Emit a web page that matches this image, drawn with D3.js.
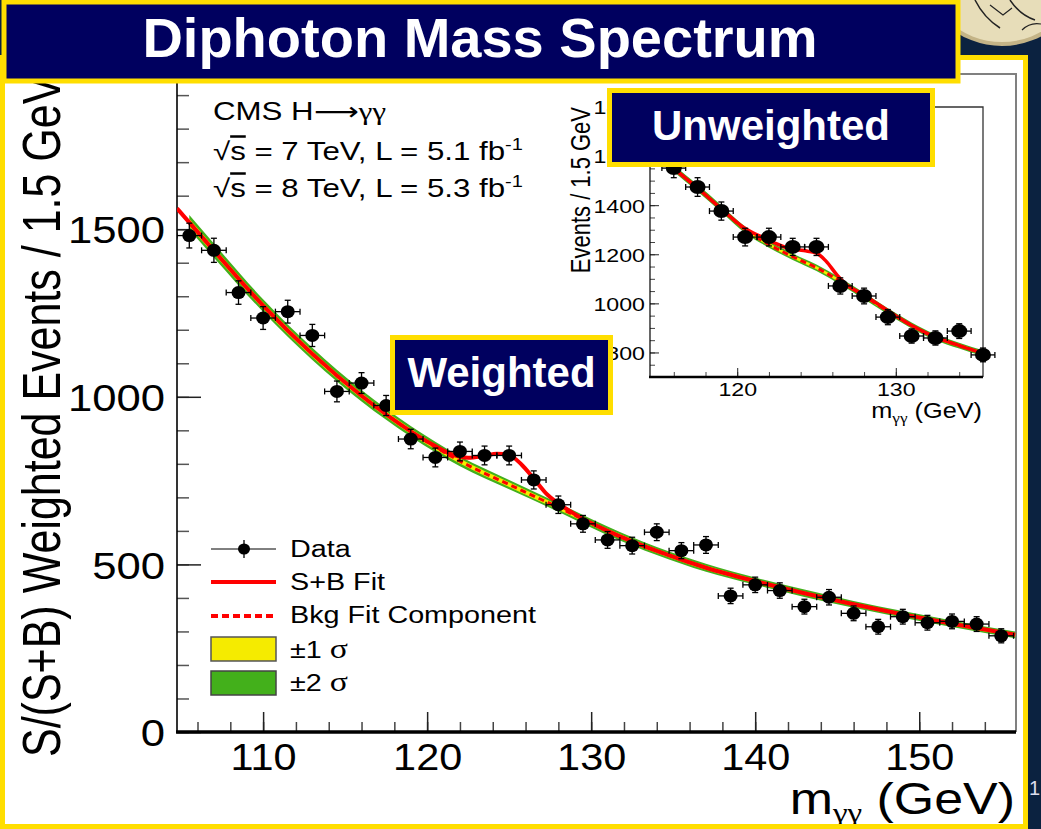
<!DOCTYPE html>
<html>
<head>
<meta charset="utf-8">
<script src="https://cdn.jsdelivr.net/npm/d3@7"></script>
<style>
  body { margin: 0; background: #0b2240; }
  svg { display: block; }
  .greek { font-family: "Liberation Serif", "DejaVu Serif", serif; }
  .arrow { font-family: "DejaVu Sans", sans-serif; }
</style>
</head>
<body>
<svg id="chart" width="1041" height="829"></svg>
<script>
// ---- main plot (S/(S+B) weighted) ----
const massMain = [105.5,107,108.5,110,111.5,113,114.5,116,117.5,119,120.5,122,123.5,125,126.5,128,129.5,
  131,132.5,134,135.5,137,138.5,140,141.5,143,144.5,146,147.5,149,150.5,152,153.5,155];
const eventsMain = [1481,1437,1311,1235,1254,1183,1016,1041,974,874,819,837,825,825,752,678,621,
  573,556,596,541,558,406,439,422,374,402,354,314,344,326,330,322,287];
const errMain = [37,36,35,34,34,33,31,31,30,29,28,28,28,28,27,26,25,
  25,25,25,24,25,23,23,23,22,23,22,22,22,22,22,22,21];

const bkgMass = [105.5,107,110,113,116,119,122,125,128,131,134,137,140,143,146,149,152,155.85];
const bkgMain = [1520,1436,1272,1128,1003,897,808,738,670,600,540,490,450,414,381,351,323,290];
const sig1Main = [11,10,9,9,8,8,7,7,7,6,6,6,6,5,5,5,5,5];
const sig2Main = [22,21,19,18,17,16,15,14,13,13,12,12,11,11,10,10,10,10];

const sbMass = [104.75,107,110,113,116,119,120.5,121.5,122.5,123.5,124.25,125,125.75,126.5,127.25,128,129,
  131,134,137,140,143,146,149,152,155.85];
const sbMain = [1562,1436,1272,1128,1003,897,853,828,818,824,830,826,798,756,712,682,650,
  600,540,490,450,414,381,351,323,290];

const xTicksMain = [110,120,130,140,150];
const yTicksMain = [0,500,1000,1500];

// ---- inset (unweighted) ----
const massInset = [116,117.5,119,120.5,122,123.5,125,126.5,128,129.5,131,132.5,134,135.5];
const eventsInset = [1551,1474,1376,1270,1270,1230,1230,1071,1030,944,867,859,887,790];
const errInset = [39,38,37,36,36,35,35,33,32,31,29,29,30,28];

const bkgMassInset = [114.5,116,117.5,119,120.5,122,123.5,125,126.5,128,129.5,131,132.5,134,135.5];
const bkgInset = [1640,1550,1470,1385,1300,1240,1190,1145,1090,1030,968,910,862,828,797];
const sig1Inset = [6,6,6,6,6,6,6,6,6,6,6,6,6,6,6];
const sig2Inset = [14,14,14,14,13,13,13,13,13,13,12,12,12,12,12];

const sbMassInset = [114.5,116,117.5,119,120.5,121.5,122.3,123.2,124.2,125,125.6,126.3,127,127.8,128.8,129.5,131,132.5,134,135.5];
const sbInset = [1640,1550,1470,1385,1305,1272,1248,1225,1215,1205,1172,1115,1070,1042,1000,970,910,862,828,797];

const xTicksInset = [120,130];
const yTicksInset = [800,1000,1200,1400,1600,1800];

const legendItems = ['Data','S+B Fit','Bkg Fit Component','\u00b11 ','\u00b12 '];

// ---- setup ----
const FONT = '"Liberation Sans", Arial, Helvetica, sans-serif';
const SX = 1.2;  // plot picture is stretched sideways on the slide
const YELLOW = '#ffde00', NAVY = '#00005f', RED = '#ff0000';
const GREEN = '#43b01b', BAND1 = '#f5eb00';

const svg = d3.select('#chart').attr('font-family', FONT);
const width = +svg.attr('width'), height = +svg.attr('height');

svg.append('rect').attr('width', width).attr('height', height).attr('fill', '#0b2240');

// disc in the top right corner of the slide
const disc = svg.append('g');
disc.append('circle').attr('cx', 1002).attr('cy', -38).attr('r', 82)
  .attr('fill', '#e7ddb9').attr('stroke', '#c4b487').attr('stroke-width', 4);
[['M975,0 Q984,18 1000,28', 1.5], ['M1010,0 Q1020,15 1035,20', 1.5], ['M990,5 L1003,15 L1012,8', 1.2],
 ['M1022,30 Q1030,22 1041,24', 1.2]].forEach(([d, w]) =>
  disc.append('path').attr('d', d).attr('fill', 'none').attr('stroke', '#222').attr('stroke-width', w));

// white panel
svg.append('rect').attr('x', 2.5).attr('y', 57.5).attr('width', 1023).attr('height', 769).attr('fill', '#fff');

const x = d3.scaleLinear().domain([104.75, 155.9]).range([177, 1016]);
const y = d3.scaleLinear().domain([0, 1963]).range([732, 74]);

svg.append('clipPath').attr('id', 'clipMain').append('rect')
  .attr('x', 177).attr('y', 74).attr('width', 839).attr('height', 658);

// frame
svg.append('path').attr('d', 'M177,74 H1016 V732').attr('fill', 'none').attr('stroke', '#808080').attr('stroke-width', 2);

function stretchTicks(g, size, sx) {
  g.attr('font-size', size).attr('font-family', FONT).attr('color', '#222');
  g.select('.domain').remove();
  g.selectAll('text').attr('fill', '#000').each(function () {
    const t = d3.select(this);
    const tx = +t.attr('x') || 0, ty = +t.attr('y') || 0;
    t.attr('x', 0).attr('y', 0).attr('transform', `translate(${tx},${ty}) scale(${sx},1)`);
  });
}

// axes of main plot
const yMinor = svg.append('g').attr('transform', 'translate(177,0)')
  .call(d3.axisLeft(y).tickValues(d3.range(0, 1963, 100)).tickSize(-12).tickFormat(''));
yMinor.select('.domain').remove();
yMinor.selectAll('line').attr('stroke', '#555').attr('stroke-width', 1.5);

const yAxis = svg.append('g').attr('transform', 'translate(177,0)')
  .call(d3.axisLeft(y).tickValues(yTicksMain).tickSize(-24).tickPadding(12).tickFormat(d3.format('d')));
stretchTicks(yAxis, 37, 1.18);
yAxis.selectAll('line').attr('stroke-width', 1.5);
yAxis.selectAll('text').attr('dy', '0.37em');

const xMinor = svg.append('g').attr('transform', 'translate(0,732)')
  .call(d3.axisBottom(x).tickValues(d3.range(106, 156, 2)).tickSize(-10).tickFormat(''));
xMinor.select('.domain').remove();
xMinor.selectAll('line').attr('stroke', '#444').attr('stroke-width', 1.5);

const xAxis = svg.append('g').attr('transform', 'translate(0,732)')
  .call(d3.axisBottom(x).tickValues(xTicksMain).tickSize(-20).tickPadding(12).tickFormat(d3.format('d')));
stretchTicks(xAxis, 37, 1.12);
xAxis.selectAll('line').attr('stroke-width', 1.5);

svg.append('line').attr('x1', 177).attr('x2', 177).attr('y1', 74).attr('y2', 732)
  .attr('stroke', '#000').attr('stroke-width', 1.6);
svg.append('line').attr('x1', 176).attr('x2', 1016).attr('y1', 732).attr('y2', 732)
  .attr('stroke', '#000').attr('stroke-width', 3.5);

// fit curves: 2 sigma / 1 sigma band, dashed background, solid S+B
function drawFit(g, xs, ys, bMass, bVals, s1, s2, sbM, sbV, widthSB) {
  const rows = bMass.map((m, i) => ({ m, b: bVals[i], s1: s1[i], s2: s2[i] }));
  const area = (k) => d3.area().curve(d3.curveMonotoneX)
    .x(d => xs(d.m)).y0(d => ys(d.b - d[k])).y1(d => ys(d.b + d[k]));
  g.append('path').datum(rows).attr('d', area('s2')).attr('fill', GREEN);
  g.append('path').datum(rows).attr('d', area('s1')).attr('fill', BAND1);
  g.append('path').datum(rows)
    .attr('d', d3.line().curve(d3.curveMonotoneX).x(d => xs(d.m)).y(d => ys(d.b)))
    .attr('fill', 'none').attr('stroke', RED).attr('stroke-width', 3).attr('stroke-dasharray', '6,4');
  g.append('path').datum(sbM.map((m, i) => [m, sbV[i]]))
    .attr('d', d3.line().curve(d3.curveMonotoneX).x(d => xs(d[0])).y(d => ys(d[1])))
    .attr('fill', 'none').attr('stroke', RED).attr('stroke-width', widthSB);
}

function drawData(g, xs, ys, ms, vs, es, rx, ry) {
  const pts = g.selectAll('g.pt').data(ms.map((m, i) => ({ m, v: vs[i], e: es[i] })))
    .join('g').attr('class', 'pt').attr('stroke', '#000').attr('stroke-width', 1.3);
  pts.append('line').attr('x1', d => xs(d.m)).attr('x2', d => xs(d.m))
    .attr('y1', d => ys(d.v - d.e)).attr('y2', d => ys(d.v + d.e));
  pts.append('line').attr('x1', d => xs(d.m - 0.75)).attr('x2', d => xs(d.m + 0.75))
    .attr('y1', d => ys(d.v)).attr('y2', d => ys(d.v));
  [-1, 1].forEach(s => {
    pts.append('line').attr('x1', d => xs(d.m) - 3).attr('x2', d => xs(d.m) + 3)
      .attr('y1', d => ys(d.v + s * d.e)).attr('y2', d => ys(d.v + s * d.e));
    pts.append('line').attr('x1', d => xs(d.m + s * 0.75)).attr('x2', d => xs(d.m + s * 0.75))
      .attr('y1', d => ys(d.v) - 3).attr('y2', d => ys(d.v) + 3);
  });
  pts.append('ellipse').attr('cx', d => xs(d.m)).attr('cy', d => ys(d.v))
    .attr('rx', rx).attr('ry', ry).attr('fill', '#000').attr('stroke', 'none');
}

const plotMain = svg.append('g').attr('clip-path', 'url(#clipMain)');
drawFit(plotMain, x, y, bkgMass, bkgMain, sig1Main, sig2Main, sbMass, sbMain, 4);
drawData(plotMain, x, y, massMain, eventsMain, errMain, 7, 6.5);

// helper for stretched text
function label(parent, px, py, size, opts = {}) {
  const sx = opts.sx || SX;
  return parent.append('text')
    .attr('transform', `translate(${px},${py}) scale(${sx},1)` + (opts.rot ? ` rotate(${opts.rot})` : ''))
    .attr('font-size', size).attr('text-anchor', opts.anchor || 'start')
    .attr('font-weight', opts.weight || 'normal').attr('fill', opts.fill || '#000');
}

// axis titles
label(svg, 60, 757, 43, { rot: -90, sx: 1.25 }).text('S/(S+B) Weighted Events / 1.5 GeV');
const xt = label(svg, 1015, 814, 44, { anchor: 'end', sx: 1.18 });
xt.append('tspan').text('m');
xt.append('tspan').attr('class', 'greek').attr('font-size', 28).attr('dy', 8).text('\u03b3\u03b3');
xt.append('tspan').attr('dy', -8).text(' (GeV)');

// CMS text block
const cms = label(svg, 213, 120, 25, { sx: 1.25 });
cms.append('tspan').text('CMS H');
cms.append('tspan').attr('class', 'arrow').text('\u27f6');
cms.append('tspan').attr('class', 'greek').text('\u03b3\u03b3');
[['7', '5.1', 160], ['8', '5.3', 197]].forEach(([e, l, by]) => {
  const t = label(svg, 213, by, 25, { sx: 1.25 });
  t.append('tspan').text('\u221a');
  t.append('tspan').style('text-decoration', 'overline').text('s');
  t.append('tspan').text(` = ${e} TeV, L = ${l} fb`);
  t.append('tspan').attr('font-size', 16).attr('dy', -10).text('-1');
});

// legend
const lg = svg.append('g');
lg.append('line').attr('x1', 211).attr('x2', 276).attr('y1', 549).attr('y2', 549).attr('stroke', '#000').attr('stroke-width', 1);
lg.append('line').attr('x1', 244).attr('x2', 244).attr('y1', 540).attr('y2', 558).attr('stroke', '#000').attr('stroke-width', 1.3);
lg.append('ellipse').attr('cx', 244).attr('cy', 549).attr('rx', 6).attr('ry', 5.5).attr('fill', '#000');
lg.append('line').attr('x1', 211).attr('x2', 276).attr('y1', 582).attr('y2', 582).attr('stroke', RED).attr('stroke-width', 4);
lg.append('line').attr('x1', 211).attr('x2', 276).attr('y1', 616).attr('y2', 616).attr('stroke', RED).attr('stroke-width', 4).attr('stroke-dasharray', '7,4');
lg.append('rect').attr('x', 211).attr('y', 637).attr('width', 65).attr('height', 24).attr('fill', BAND1).attr('stroke', '#555').attr('stroke-width', 1.5);
lg.append('rect').attr('x', 211).attr('y', 671).attr('width', 65).attr('height', 24).attr('fill', GREEN).attr('stroke', '#444').attr('stroke-width', 1.5);
[557, 590, 623, 658, 691].forEach((by, i) => {
  const t = label(lg, 290, by, 23, { sx: 1.25 }).text(legendItems[i]);
  if (i >= 3) t.append('tspan').attr('class', 'greek').attr('font-size', 27).text('\u03c3');
});

// ---- inset ----
const xi = d3.scaleLinear().domain([114.5, 135.5]).range([650, 983]);
const yi = d3.scaleLinear().domain([700, 1800]).range([377, 107]);

svg.append('clipPath').attr('id', 'clipInset').append('rect')
  .attr('x', 650).attr('y', 107).attr('width', 333).attr('height', 270);

svg.append('path').attr('d', 'M650,107 H983 V377').attr('fill', 'none').attr('stroke', '#333').attr('stroke-width', 1.3);

const yiMinor = svg.append('g').attr('transform', 'translate(650,0)')
  .call(d3.axisLeft(yi).tickValues(d3.range(700, 1801, 50)).tickSize(-5).tickFormat(''));
yiMinor.select('.domain').remove();
yiMinor.selectAll('line').attr('stroke', '#444');
const yiAxis = svg.append('g').attr('transform', 'translate(650,0)')
  .call(d3.axisLeft(yi).tickValues(yTicksInset).tickSize(-9).tickPadding(5).tickFormat(d3.format('d')));
stretchTicks(yiAxis, 19, 1.22);
yiAxis.selectAll('text').attr('dy', '0.36em');

const xiMinor = svg.append('g').attr('transform', 'translate(0,377)')
  .call(d3.axisBottom(xi).tickValues(d3.range(116, 135, 2)).tickSize(-5).tickFormat(''));
xiMinor.select('.domain').remove();
xiMinor.selectAll('line').attr('stroke', '#444');
const xiAxis = svg.append('g').attr('transform', 'translate(0,377)')
  .call(d3.axisBottom(xi).tickValues(xTicksInset).tickSize(-9).tickPadding(5).tickFormat(d3.format('d')));
stretchTicks(xiAxis, 19, 1.22);

svg.append('line').attr('x1', 650).attr('x2', 650).attr('y1', 107).attr('y2', 377).attr('stroke', '#000').attr('stroke-width', 1.2);
svg.append('line').attr('x1', 649).attr('x2', 983).attr('y1', 377).attr('y2', 377).attr('stroke', '#000').attr('stroke-width', 2.5);

const plotInset = svg.append('g').attr('clip-path', 'url(#clipInset)');
drawFit(plotInset, xi, yi, bkgMassInset, bkgInset, sig1Inset, sig2Inset, sbMassInset, sbInset, 3.5);
drawData(svg.append('g'), xi, yi, massInset, eventsInset, errInset, 8, 7);

label(svg, 590, 107, 22, { rot: -90, anchor: 'end', sx: 1.27 }).text('Events / 1.5 GeV');
const xit = label(svg, 982, 418, 22, { anchor: 'end', sx: 1.15 });
xit.append('tspan').text('m');
xit.append('tspan').attr('class', 'greek').attr('font-size', 15).attr('dy', 5).text('\u03b3\u03b3');
xit.append('tspan').attr('dy', -5).text(' (GeV)');

// ---- slide boxes ----
function box(x0, y0, w, h, text, size, cx, by) {
  svg.append('rect').attr('x', x0).attr('y', y0).attr('width', w).attr('height', h)
    .attr('fill', NAVY).attr('stroke', YELLOW).attr('stroke-width', 5);
  svg.append('text').attr('x', cx).attr('y', by).attr('text-anchor', 'middle')
    .attr('font-size', size).attr('font-weight', 'bold').attr('fill', '#fff').text(text);
}
box(392.5, 337.5, 218, 75, 'Weighted', 42, 501.5, 387);
box(609.5, 90.5, 323, 74, 'Unweighted', 42, 771, 140);

// left edge strips of the slide behind
svg.append('rect').attr('x', 0).attr('y', 83).attr('width', 3).attr('height', 167).attr('fill', '#e01010');
svg.append('rect').attr('x', 0).attr('y', 250).attr('width', 4).attr('height', 210).attr('fill', '#22c4e8');

// panel border
svg.append('rect').attr('x', 2.5).attr('y', 57.5).attr('width', 1023).attr('height', 769)
  .attr('fill', 'none').attr('stroke', YELLOW).attr('stroke-width', 5);
svg.append('rect').attr('x', 0).attr('y', 460).attr('width', 5).attr('height', 369).attr('fill', YELLOW);

// title banner
box(4, 2, 954, 79, 'Diphoton Mass Spectrum', 56, 480, 57);

// page number of the slide behind
svg.append('text').attr('x', 1029).attr('y', 795).attr('font-size', 20).attr('fill', '#dde').text('1');
</script>
</body>
</html>
